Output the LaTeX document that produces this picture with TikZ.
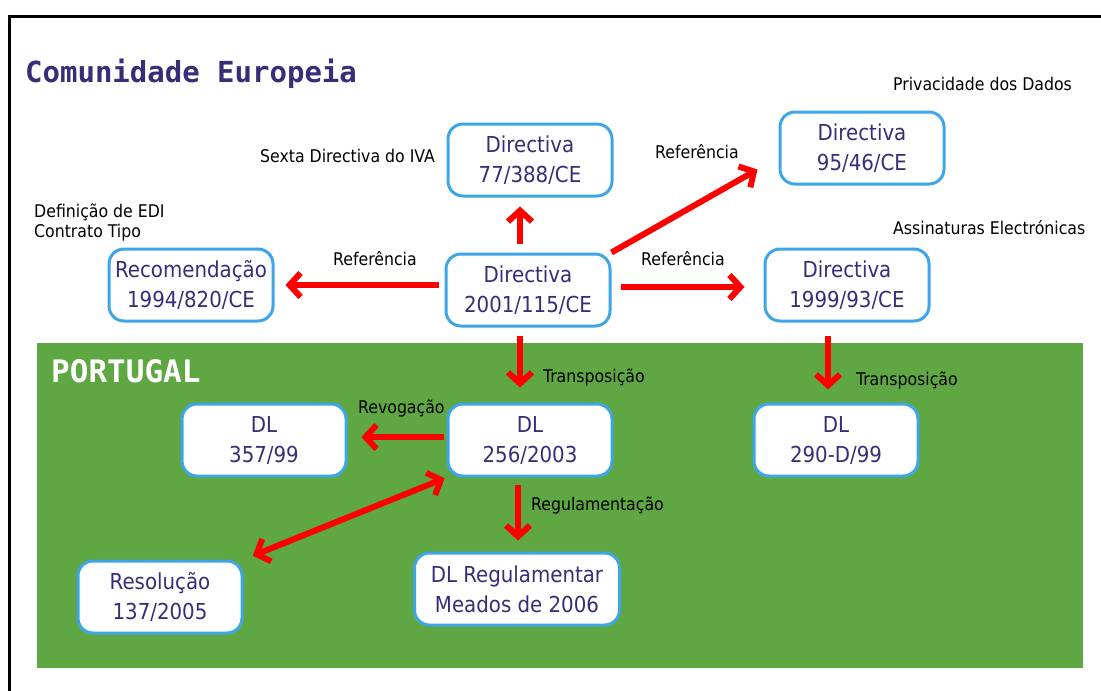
\documentclass[tikz,border=0pt]{standalone}
\usepackage{fontspec}
\setmainfont{DejaVu Sans Condensed}
\newfontfamily\titlefont{DejaVu Sans Mono}
\usetikzlibrary{arrows.meta,calc}
\definecolor{boxblue}{HTML}{3EA6E6}
\definecolor{txtpurple}{HTML}{3A2D78}
\definecolor{ptgreen}{HTML}{5FA742}
\definecolor{arrred}{HTML}{FF0000}
\tikzset{
  docbox/.style={draw=boxblue, line width=3pt, fill=white, rounded corners=15pt,
    minimum width=164pt, minimum height=72pt, align=center, text=txtpurple,
    font=\fontsize{22}{30}\selectfont, inner sep=2pt},
  lbl/.style={font=\fontsize{17.5}{20}\selectfont, text=black, inner sep=0pt, align=left},
  redarrow/.style={draw=arrred, line width=6pt, -{Straight Barb[length=11pt,width=24pt]}},
  redboth/.style={draw=arrred, line width=6pt, {Straight Barb[length=11pt,width=24pt]}-{Straight Barb[length=11pt,width=24pt]}}
}
\begin{document}
\begin{tikzpicture}[x=1pt,y=-1pt]
\useasboundingbox (0,0) rectangle (1101,691);
\fill[white] (0,0) rectangle (1101,691);
% frame
\draw[line width=3pt, line cap=rect] (1101,16) -- (9,16) -- (9,691);
% green area
\fill[ptgreen] (37,343) rectangle (1083,668);
% titles
\node[anchor=base west, inner sep=0pt, text=txtpurple, font=\titlefont\bfseries\fontsize{29}{32}\selectfont] (title) at (25,82) {Comunidade Europeia};
\node[anchor=base west, inner sep=0pt, text=white, font=\titlefont\bfseries\fontsize{31}{34}\selectfont] (pt) at (51,382) {PORTUGAL};
% boxes
\node[docbox] (nA) at (530,160) {Directiva\\77/388/CE};
\node[docbox] (nB) at (862,148) {Directiva\\95/46/CE};
\node[docbox] (nRec) at (191,285) {Recomendação\\1994/820/CE};
\node[docbox] (nC) at (528,290) {Directiva\\2001/115/CE};
\node[docbox] (nD) at (847,285) {Directiva\\1999/93/CE};
\node[docbox] (n357) at (264,440) {DL\\357/99};
\node[docbox] (n256) at (530,440) {DL\\256/2003};
\node[docbox] (n290) at (836,440) {DL\\290-D/99};
\node[docbox] (nRes) at (160,597) {Resolução\\137/2005};
\node[docbox, minimum width=205pt] (nReg) at (517,589) {DL Regulamentar\\Meados de 2006};
% labels
\node[lbl, anchor=west] (l1) at (260,156) {Sexta Directiva do IVA};
\node[lbl, anchor=west] (l2) at (655,152) {Referência};
\node[lbl, anchor=west] (l3) at (893,84) {Privacidade dos Dados};
\node[lbl, anchor=west] (l4) at (34,223) {Definição de EDI\\Contrato Tipo};
\node[lbl, anchor=west] (l5) at (333,259) {Referência};
\node[lbl, anchor=west] (l6) at (641,259) {Referência};
\node[lbl, anchor=west] (l7) at (893,228) {Assinaturas Electrónicas};
\node[lbl, anchor=west] (l8) at (543,378) {Transposição};
\node[lbl, anchor=west] (l9) at (856,381) {Transposição};
\node[lbl, anchor=west] (l10) at (358,409) {Revogação};
\node[lbl, anchor=west] (l11) at (531,506) {Regulamentação};
% arrows
\draw[redarrow, shorten <=9pt, shorten >=9pt] ([xshift=-8pt]nC.north) -- ([xshift=-8pt]nC.north |- nA.south);
\draw[redarrow] (nC.north east) -- ($(nB.south west)+(-21,-16)$);
\draw[redarrow, shorten <=6pt, shorten >=11pt] ([yshift=5pt]nC.west) -- ([yshift=5pt]nC.west -| nRec.east);
\draw[redarrow, shorten <=9pt, shorten >=19pt] ([yshift=3pt]nC.east) -- ([yshift=3pt]nC.east -| nD.west);
\draw[redarrow, shorten <=8pt, shorten >=15pt] ([xshift=-8pt]nC.south) -- ([xshift=-8pt]nC.south |- n256.north);
\draw[redarrow, shorten <=13pt, shorten >=13pt] ([xshift=-19pt]nD.south) -- ([xshift=-19pt]nD.south |- n290.north);
\draw[redarrow, shorten <=3pt, shorten >=14pt] ([yshift=3pt]n256.west) -- ([yshift=3pt]n256.west -| n357.east);
\draw[redarrow, shorten <=7pt, shorten >=11pt] ([xshift=-12pt]n256.south) -- ([xshift=-12pt]n256.south |- nReg.north);
\draw[redboth, shorten <=2pt, shorten >=10pt] (n256.south west) -- (nRes.north east);
\end{tikzpicture}
\end{document}
